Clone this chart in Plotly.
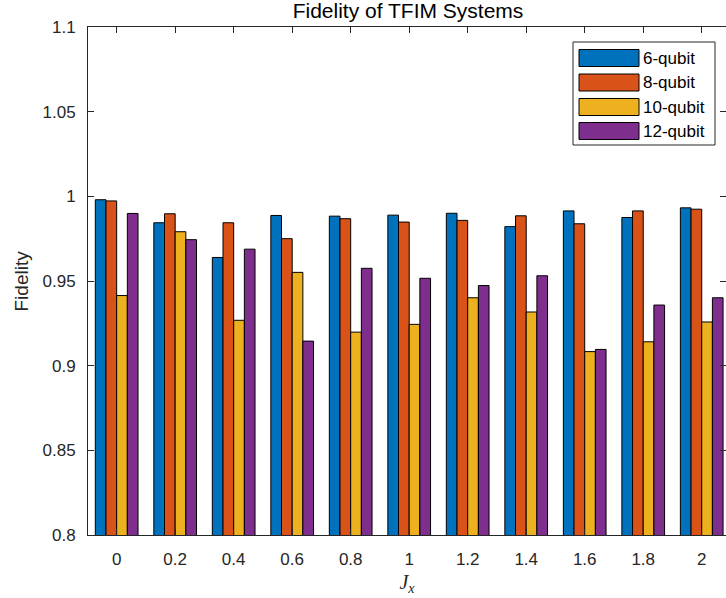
import plotly.graph_objects as go

jx = [0, 0.2, 0.4, 0.6, 0.8, 1.0, 1.2, 1.4, 1.6, 1.8, 2.0]
tick_labels = ["0", "0.2", "0.4", "0.6", "0.8", "1", "1.2", "1.4", "1.6", "1.8", "2"]
series_names = ["6-qubit", "8-qubit", "10-qubit", "12-qubit"]
q6 = [0.9980, 0.9844, 0.9639, 0.9887, 0.9883, 0.9889, 0.9900, 0.9821, 0.9914, 0.9875, 0.9932]
q8 = [0.9973, 0.9897, 0.9844, 0.9750, 0.9868, 0.9848, 0.9858, 0.9885, 0.9838, 0.9914, 0.9924]
q10 = [0.9414, 0.9791, 0.9268, 0.9551, 0.9198, 0.9244, 0.9401, 0.9317, 0.9083, 0.9141, 0.9258]
q12 = [0.9899, 0.9744, 0.9688, 0.9145, 0.9575, 0.9516, 0.9473, 0.9531, 0.9096, 0.9358, 0.9401]
colors = ["#0072BD", "#D95319", "#EDB120", "#7E2F8E"]
y_ticks = [0.8, 0.85, 0.9, 0.95, 1.0, 1.05, 1.1]
y_tick_labels = ["0.8", "0.85", "0.9", "0.95", "1", "1.05", "1.1"]

W, H = 726, 598
L, R, T, B = 88, 0, 27, 63
FONT = "Liberation Sans, Arial, sans-serif"
AX = "#262626"

fig = go.Figure()
for name, vals, col in zip(series_names, [q6, q8, q10, q12], colors):
    fig.add_trace(go.Bar(x=jx, y=vals, name=name, marker=dict(color=col, line=dict(color="#000000", width=1)),
                         showlegend=False))
# invisible trace for right-side mirrored ticks
fig.add_trace(go.Scatter(x=[jx[0]], y=[y_ticks[0]], yaxis="y2", mode="markers",
                         marker=dict(opacity=0), showlegend=False, hoverinfo="skip"))

fig.update_layout(
    width=W, height=H,
    margin=dict(l=L, r=R, t=T, b=B),
    paper_bgcolor="white", plot_bgcolor="white",
    barmode="group", bargap=0.27, bargroupgap=0,
    font=dict(family=FONT, size=17, color=AX),
    title=dict(text="Fidelity of TFIM Systems", x=(408 - L) / (W - L - R), xref="paper", xanchor="center",
               y=1 - 11 / H, yref="container", yanchor="middle",
               font=dict(family=FONT, size=21, color="#000000")),
    xaxis=dict(range=[-0.098, 2.083], tickmode="array", tickvals=jx, ticktext=tick_labels,
               ticks="inside", ticklen=6, tickcolor=AX, showline=True, linecolor=AX, linewidth=1,
               mirror="ticks", showgrid=False, zeroline=False, ticklabelstandoff=9,
               title=dict(text="<i>J</i><sub><i>x</i></sub>", font=dict(family="Liberation Serif, serif", size=20, color=AX),
                          standoff=6)),
    yaxis=dict(range=[0.8, 1.1], tickmode="array", tickvals=y_ticks, ticktext=y_tick_labels,
               ticks="inside", ticklen=6, tickcolor=AX, showline=True, linecolor=AX, linewidth=1,
               showgrid=False, zeroline=False, ticklabelstandoff=8),
    yaxis2=dict(range=[0.8, 1.1], overlaying="y", side="right", tickmode="array", tickvals=y_ticks,
                ticks="inside", ticklen=6, tickcolor=AX, showline=False, showticklabels=False,
                showgrid=False, zeroline=False),
)

# manual legend (wide swatches like the original)
def px_x(p):
    return (p - L) / (W - L - R)

def px_y(p):
    return (H - B - p) / (H - T - B)

shapes = [dict(type="rect", xref="paper", yref="paper", x0=px_x(573), x1=px_x(715), y0=px_y(145), y1=px_y(42),
               line=dict(color=AX, width=1), fillcolor="white", layer="above")]
annotations = [dict(text="Fidelity", xref="paper", yref="paper", x=px_x(20.5), y=0.5, xanchor="center",
                    yanchor="middle", textangle=-90, showarrow=False,
                    font=dict(family=FONT, size=19, color=AX))]
row_c = [58, 82.5, 107, 131]
for name, col, yc in zip(series_names, colors, row_c):
    shapes.append(dict(type="rect", xref="paper", yref="paper", x0=px_x(579), x1=px_x(639),
                       y0=px_y(yc + 8.5), y1=px_y(yc - 8.5), line=dict(color="#000000", width=1),
                       fillcolor=col, layer="above"))
    annotations.append(dict(text=name, xref="paper", yref="paper", x=px_x(641), y=px_y(yc), xanchor="left",
                            yanchor="middle", showarrow=False, font=dict(family=FONT, size=17, color="#000000")))
fig.update_layout(shapes=shapes, annotations=annotations)

fig.write_html("out.html")
